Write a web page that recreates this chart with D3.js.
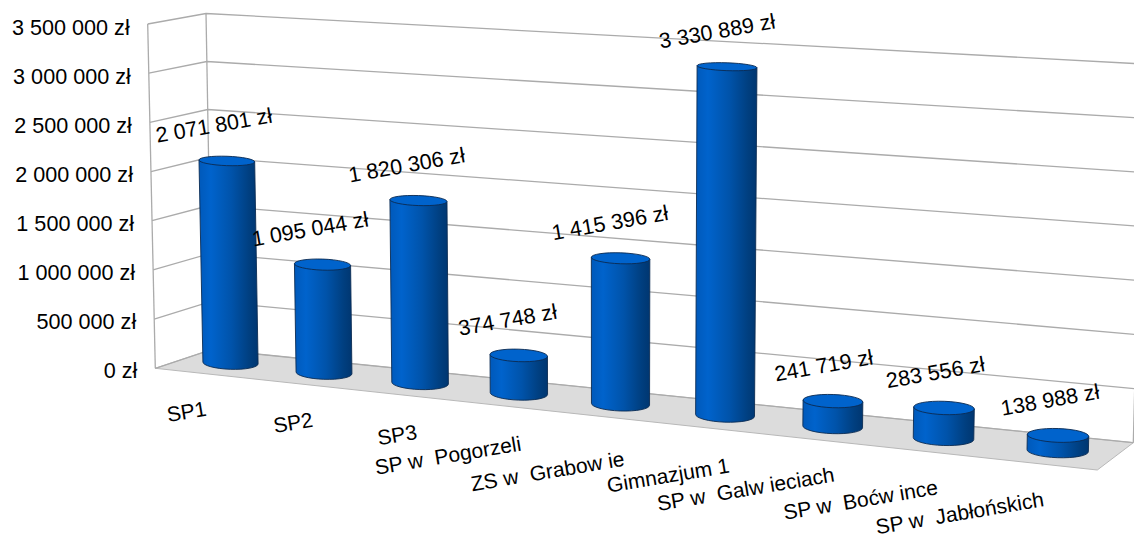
<!DOCTYPE html>
<html>
<head>
<meta charset="utf-8">
<style>
  body { margin: 0; background: #fff; }
  text { font-family: "Liberation Sans", Arial, sans-serif; fill: #000; white-space: pre; }
</style>
</head>
<body>
<div id="chart"></div>
<script src="https://cdn.jsdelivr.net/npm/d3@7"></script>
<script>
var categories = ["SP1", "SP2", "SP3", "SP w  Pogorzeli", "ZS w  Grabow ie", "Gimnazjum 1",
  "SP w  Galw ieciach", "SP w  Boćw ince", "SP w  Jabłońskich"];
var values = [2071801, 1095044, 1820306, 374748, 1415396, 3330889, 241719, 283556, 138988];
var tickValues = [0, 500000, 1000000, 1500000, 2000000, 2500000, 3000000, 3500000];

// the category labels were wrapped unevenly in the original, so they get their own nudges
var labelDx = [-44, -31, -23, -71, -73, -57, -87, -83, -98];
var labelDy = [42, 43, 45, 55, 60, 53, 55, 54, 55];

var svgWidth = 1134;
var svgHeight = 537;

var svg = d3.select("#chart")
  .append("svg")
  .attr("width", svgWidth)
  .attr("height", svgHeight)
  .style("display", "block");

var zl = d3.formatLocale({ decimal: ",", thousands: " ", grouping: [3], currency: ["", " zł"] }).format("$,");

// edges of the 3D box, value -> screen
var domainY = [0, 3500000];
var frontX = d3.scaleLinear().domain(domainY).range([155.3, 147.7]);
var frontY = d3.scaleLinear().domain(domainY).range([368.3, 24]);
var backLeftX = d3.scaleLinear().domain(domainY).range([212, 206]);
var backLeftY = d3.scaleLinear().domain(domainY).range([349.5, 13.5]);
var backRightX = d3.scaleLinear().domain(domainY).range([1133.3, 1143]);
var backRightY = d3.scaleLinear().domain(domainY).range([442.7, 64]);
var labelY = d3.scaleLinear().domain(domainY).range([370, 27]);

// perspective along the floor
var position = d3.scalePoint().domain(categories).range([0, 1]);
function depth(c) {
  var t = position(c);
  return t / (t + (1 - t) * 1.121);
}
var baseX = d3.scaleLinear().domain([0, 1]).range([230.5, 1057.7]);
var baseY = d3.scaleLinear().domain([0, 1]).range([369.3, 457.7]);
var baseR = d3.scaleLinear().domain([0, 1]).range([27.6, 30.7]);
var pxPerUnit = d3.scaleLinear().domain([0, 1]).range([0.975e-4, 1.095e-4]);
var ellipseRy = d3.scaleLinear().domain([0, 500]).range([3.4, 7.4]);
var valueShift = d3.scaleLinear().domain([0, 1]).range([-13, -8]);

var gridColor = "#ababab";

var gradient = svg.append("defs").append("linearGradient").attr("id", "barFill");
[[0, "#0059ba"], [0.2, "#0063cc"], [0.55, "#0053aa"], [0.85, "#003f80"], [1, "#003670"]].forEach(function(s) {
  gradient.append("stop").attr("offset", s[0]).attr("stop-color", s[1]);
});

// floor
svg.append("path")
  .attr("d", d3.line()([
    [frontX(0), frontY(0)],
    [backLeftX(0), backLeftY(0)],
    [backRightX(0), backRightY(0)],
    [1097.3, 470]
  ]) + "Z")
  .attr("fill", "#dcdcdc")
  .attr("stroke", "#b8b8b8")
  .attr("stroke-width", 1);

// gridlines on the two walls
var grid = svg.append("g").attr("fill", "none").attr("stroke", gridColor).attr("stroke-width", 1.3);
grid.selectAll("path.tick")
  .data(tickValues)
  .enter()
  .append("path")
  .attr("class", "tick")
  .attr("d", d => d3.line()([
    [frontX(d), frontY(d)],
    [backLeftX(d), backLeftY(d)],
    [backRightX(d), backRightY(d)]
  ]));
[[frontX, frontY], [backLeftX, backLeftY], [backRightX, backRightY]].forEach(function(e) {
  grid.append("path")
    .attr("d", d3.line()(domainY.map(v => [e[0](v), e[1](v)])));
});

// y labels
svg.selectAll("text.ylabel")
  .data(tickValues)
  .enter()
  .append("text")
  .attr("class", "ylabel")
  .attr("x", d => frontX(d) - 18)
  .attr("y", d => labelY(d))
  .attr("dy", "0.36em")
  .attr("text-anchor", "end")
  .attr("font-size", 21.6)
  .text(d => zl(d));

// cylinders
var tilt = 2 * Math.PI / 180;
function bar(c, i) {
  var t = depth(c);
  var x0 = baseX(t);
  var bottom = baseY(t);
  var r0 = baseR(t);
  var ry0 = ellipseRy(bottom);
  var y0 = bottom - ry0;
  var h = values[i] * pxPerUnit(t);
  var y1 = y0 - h;
  var grow = 1 + 4.8e-5 * h;
  var x1 = x0 + (x0 - 608) * 4.8e-5 * h;
  var r1 = r0 * grow;
  return { t: t, x0: x0, y0: y0, r0: r0, ry0: ry0, x1: x1, y1: y1, r1: r1, ry1: ellipseRy(y1) };
}
var bars = categories.map(bar);
var deg = tilt * 180 / Math.PI;

var barGroup = svg.append("g")
  .selectAll("g")
  .data(bars)
  .enter()
  .append("g")
  .attr("stroke", "#0b2b52")
  .attr("stroke-width", 0.9);

barGroup.append("path")
  .attr("fill", "url(#barFill)")
  .attr("d", function(b) {
    var c0 = Math.cos(tilt), s0 = Math.sin(tilt);
    return "M" + (b.x1 - b.r1 * c0) + "," + (b.y1 - b.r1 * s0) +
      "L" + (b.x0 - b.r0 * c0) + "," + (b.y0 - b.r0 * s0) +
      "A" + b.r0 + "," + b.ry0 + " " + deg + " 0 0 " + (b.x0 + b.r0 * c0) + "," + (b.y0 + b.r0 * s0) +
      "L" + (b.x1 + b.r1 * c0) + "," + (b.y1 + b.r1 * s0) + "Z";
  });

barGroup.append("ellipse")
  .attr("fill", "#0063cc")
  .attr("rx", d => d.r1)
  .attr("ry", d => d.ry1)
  .attr("transform", d => `translate(${d.x1}, ${d.y1}) rotate(${deg})`);

// value labels
svg.selectAll("text.value")
  .data(bars)
  .enter()
  .append("text")
  .attr("class", "value")
  .attr("text-anchor", "middle")
  .attr("dy", "0.36em")
  .attr("font-size", 21.6)
  .attr("transform", d => `translate(${d.x1 + valueShift(d.t)}, ${d.y1 - 36}) rotate(-10)`)
  .text((d, i) => zl(values[i]));

// category labels
svg.selectAll("text.category")
  .data(categories)
  .enter()
  .append("text")
  .attr("class", "category")
  .attr("text-anchor", "middle")
  .attr("dy", "0.36em")
  .attr("font-size", 21)
  .attr("transform", (d, i) => `translate(${baseX(depth(d)) + labelDx[i]}, ${baseY(depth(d)) + labelDy[i]}) rotate(-9.5)`)
  .text(d => d);
</script>
</body>
</html>
